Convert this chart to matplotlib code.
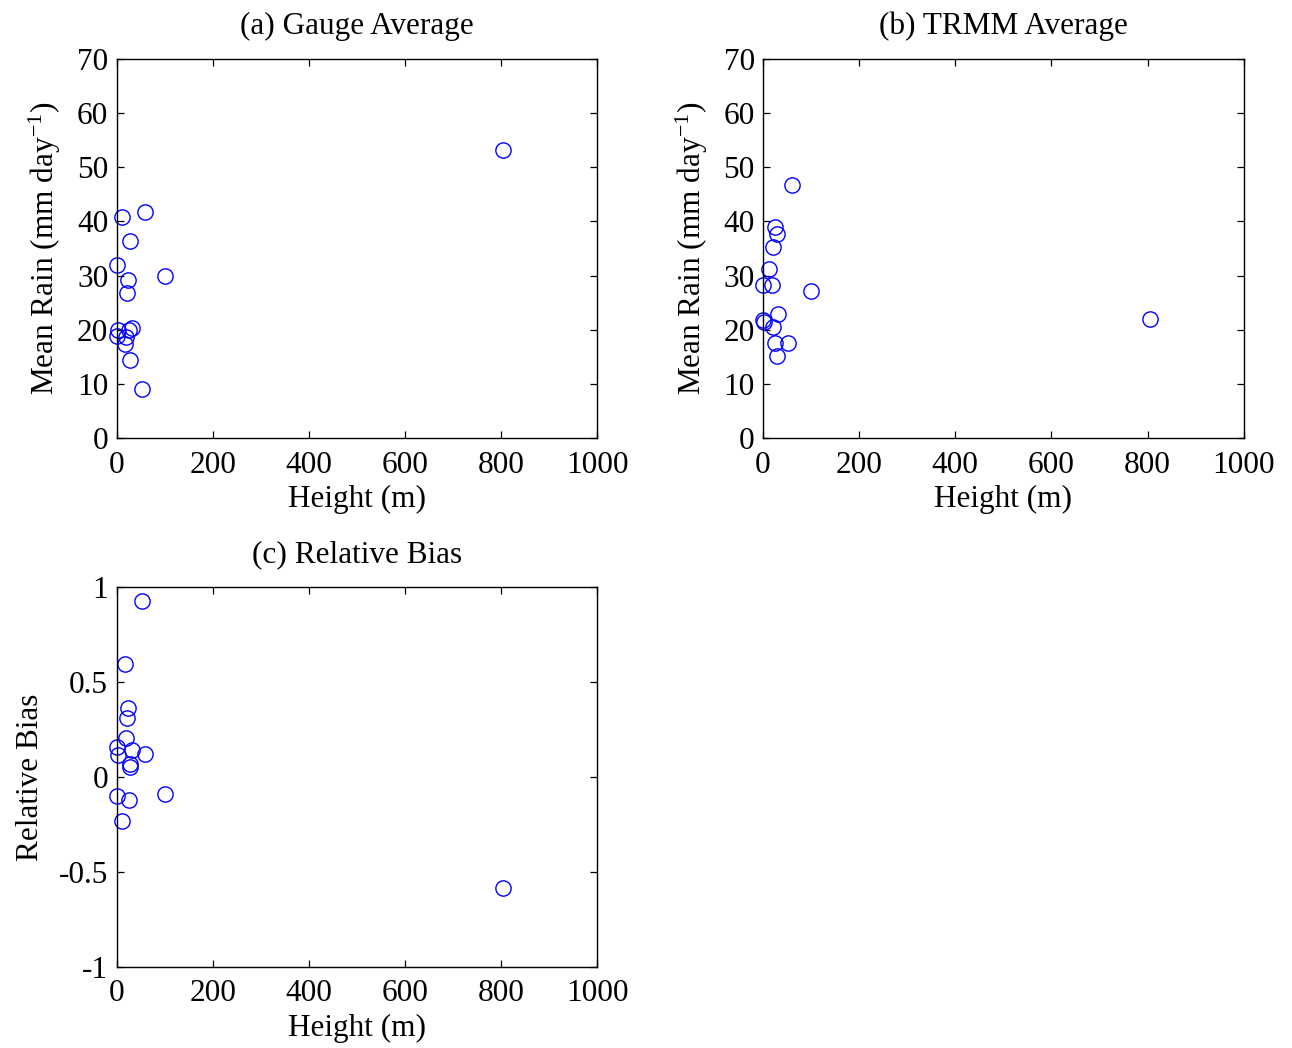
import matplotlib
matplotlib.use("Agg")
import matplotlib.pyplot as plt

plt.rcParams["font.family"] = ["Liberation Serif", "DejaVu Serif"]
plt.rcParams["mathtext.fontset"] = "custom"
plt.rcParams["mathtext.rm"] = "Liberation Serif"
plt.rcParams["mathtext.it"] = "Liberation Serif:italic"
plt.rcParams["axes.unicode_minus"] = False

# station heights (m) and per-station statistics
height = [12, 60, 28, 0, 24, 21, 100, 3, 0, 32, 25, 20, 18, 28, 52, 805]
gauge_mean = [40.8, 41.7, 36.4, 31.9, 29.1, 26.8, 30.0, 19.9, 18.8, 20.3,
              20.0, 18.7, 17.4, 14.4, 9.05, 53.2]
trmm_mean = [31.2, 46.7, 37.7, 28.3, 39.0, 35.3, 27.2, 21.5, 21.8, 23.0,
             17.5, 20.6, 28.3, 15.2, 17.6, 22.0]
rel_bias = [-0.23, 0.121, 0.051, -0.10, 0.362, 0.312, -0.089, 0.116, 0.16,
            0.142, -0.121, 0.207, 0.595, 0.067, 0.928, -0.584]

x_ticks = [0, 200, 400, 600, 800, 1000]
rain_ticks = [0, 10, 20, 30, 40, 50, 60, 70]
bias_ticks = [-1, -0.5, 0, 0.5, 1]
bias_labels = ["-1", "-0.5", "0", "0.5", "1"]

FS = 22.5


def style_axes(ax, title, ylabel, yticks, ylim, ylabels=None):
    ax.set_xlim(0, 1000)
    ax.set_ylim(*ylim)
    ax.set_xticks(x_ticks)
    ax.set_yticks(yticks)
    if ylabels is not None:
        ax.set_yticklabels(ylabels)
    ax.tick_params(direction="in", length=5, width=0.9, top=True, right=True,
                   labelsize=FS)
    ax.tick_params(axis="x", pad=9)
    ax.tick_params(axis="y", pad=6)
    for sp in ax.spines.values():
        sp.set_linewidth(1.0)
    ax.set_title(title, fontsize=FS, pad=18)
    ax.set_xlabel("Height (m)", fontsize=FS, labelpad=4)
    ax.set_ylabel(ylabel, fontsize=FS, labelpad=10)


fig = plt.figure(figsize=(12.92, 10.48), dpi=100)
fig.patch.set_facecolor("white")

ax_a = fig.add_axes([0.0902, 0.582, 0.372, 0.3617])
ax_b = fig.add_axes([0.5906, 0.582, 0.372, 0.3617])
ax_c = fig.add_axes([0.0902, 0.0773, 0.372, 0.3626])

marker_kw = dict(linestyle="none", marker="o", markersize=11,
                 markerfacecolor="none", markeredgecolor="#0000ff",
                 markeredgewidth=1.0, clip_on=False)

ax_a.plot(height, gauge_mean, **marker_kw)
style_axes(ax_a, "(a) Gauge Average", "Mean Rain (mm day$^{-1}$)",
           rain_ticks, (0, 70))

ax_b.plot(height, trmm_mean, **marker_kw)
style_axes(ax_b, "(b) TRMM Average", "Mean Rain (mm day$^{-1}$)",
           rain_ticks, (0, 70))

ax_c.plot(height, rel_bias, **marker_kw)
style_axes(ax_c, "(c) Relative Bias", "Relative Bias",
           bias_ticks, (-1, 1), bias_labels)

fig.savefig("out.png", dpi=100, facecolor="white")
